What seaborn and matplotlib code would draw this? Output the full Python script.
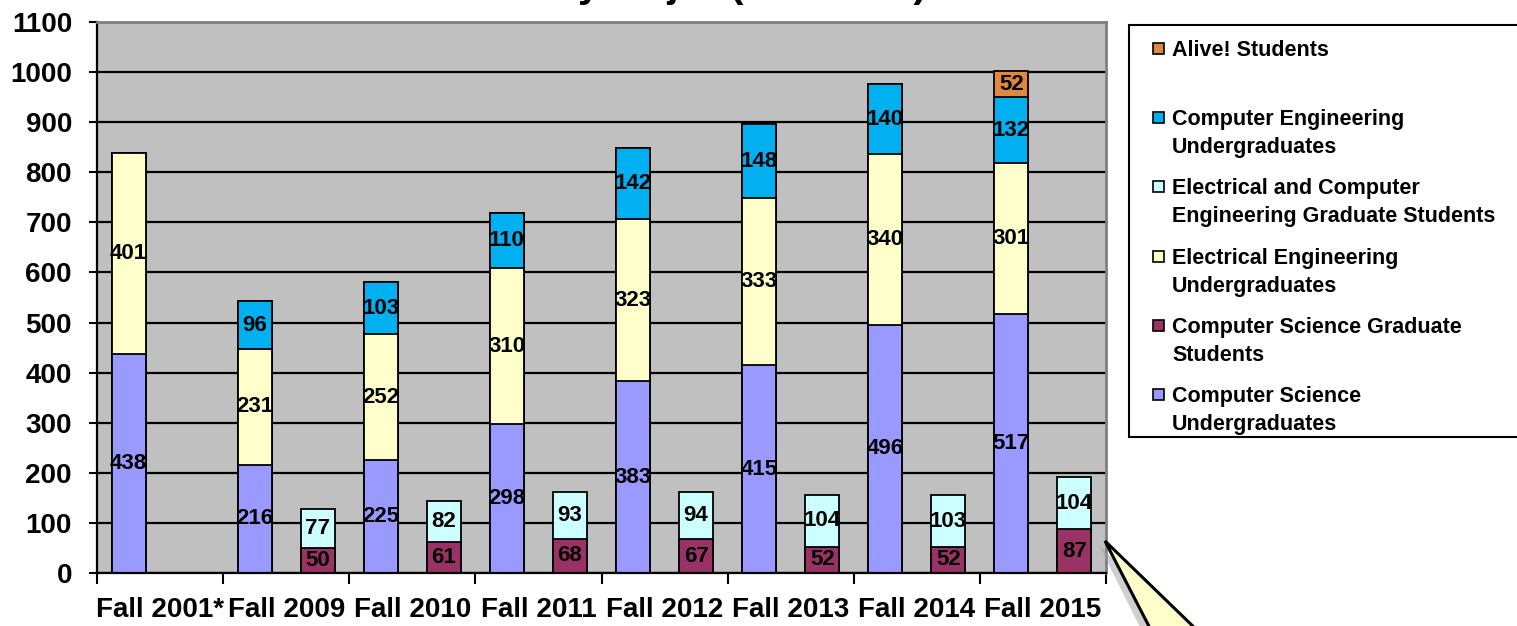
import matplotlib
matplotlib.use("Agg")
import matplotlib.pyplot as plt
import seaborn as sns
import pandas as pd
import numpy as np
from matplotlib.patches import Rectangle, Polygon
from matplotlib.ticker import MultipleLocator, FixedLocator

# Dados
terms = ["Fall 2001*", "Fall 2009", "Fall 2010", "Fall 2011",
         "Fall 2012", "Fall 2013", "Fall 2014", "Fall 2015"]
cs_undergrad = [438, 216, 225, 298, 383, 415, 496, 517]
ee_undergrad = [401, 231, 252, 310, 323, 333, 340, 301]
ce_undergrad = [0, 96, 103, 110, 142, 148, 140, 132]
alive_students = [0, 0, 0, 0, 0, 0, 0, 52]
cs_grad = [0, 50, 61, 68, 67, 52, 52, 87]
ece_grad = [0, 77, 82, 93, 94, 104, 103, 104]

values = {
    "Computer Science\nUndergraduates": cs_undergrad,
    "Electrical Engineering\nUndergraduates": ee_undergrad,
    "Computer Engineering\nUndergraduates": ce_undergrad,
    "Alive! Students": alive_students,
    "Computer Science Graduate\nStudents": cs_grad,
    "Electrical and Computer\nEngineering Graduate Students": ece_grad,
}
left_stack = ["Computer Science\nUndergraduates",
              "Electrical Engineering\nUndergraduates",
              "Computer Engineering\nUndergraduates",
              "Alive! Students"]
right_stack = ["Computer Science Graduate\nStudents",
               "Electrical and Computer\nEngineering Graduate Students"]
legend_order = ["Alive! Students",
                "Computer Engineering\nUndergraduates",
                "Electrical and Computer\nEngineering Graduate Students",
                "Electrical Engineering\nUndergraduates",
                "Computer Science Graduate\nStudents",
                "Computer Science\nUndergraduates"]

colors = {
    "Computer Science\nUndergraduates": "#9999FF",
    "Electrical Engineering\nUndergraduates": "#FFFFCC",
    "Computer Engineering\nUndergraduates": "#00B0F0",
    "Alive! Students": "#E0883F",
    "Computer Science Graduate\nStudents": "#993366",
    "Electrical and Computer\nEngineering Graduate Students": "#CCFFFF",
}

sns.set_style("white")
plt.rcParams["font.family"] = ["Liberation Sans", "DejaVu Sans"]
plt.rcParams["font.weight"] = "bold"
plt.rcParams["text.color"] = "black"
plt.rcParams["xtick.color"] = "black"
plt.rcParams["ytick.color"] = "black"
plt.rcParams["axes.labelcolor"] = "black"

W, H = 1517, 626
fig = plt.figure(figsize=(W / 100, H / 100), dpi=100)
ax = fig.add_axes([97 / W, 1 - 573 / H, (1106 - 97) / W, (573 - 22) / H])

sides = ["left", "right"]
offsets = {"left": -0.25, "right": 0.25}


def draw_stack(ax, names, side):
    # desenha os totais acumulados, do topo para a base, para simular empilhamento
    cum = np.zeros(len(terms))
    layers = []
    for name in names:
        bottom = cum.copy()
        cum = cum + np.array(values[name])
        layers.append((name, bottom, cum.copy()))
    for name, bottom, top in reversed(layers):
        d = pd.DataFrame({"term": terms, "total": top, "side": side})
        d = d[d.total > 0]
        sns.barplot(data=d, x="term", y="total", hue="side", order=terms,
                    hue_order=sides, dodge=True, saturation=1,
                    palette={s: colors[name] for s in sides},
                    width=1.0, gap=0.46, edgecolor="black", linewidth=1.3,
                    errorbar=None, legend=False, ax=ax)
    # rótulos de valores no centro de cada segmento
    for name, bottom, top in layers:
        for i, v in enumerate(values[name]):
            if v > 0:
                ax.text(i + offsets[side], bottom[i] + v / 2, str(v),
                        ha="center", va="center", fontsize=16,
                        fontweight="bold", color="black", zorder=5)


draw_stack(ax, left_stack, "left")
draw_stack(ax, right_stack, "right")

# Configurações do eixo
ax.set_facecolor("#C0C0C0")
ax.set_ylim(0, 1100)
ax.yaxis.set_major_locator(MultipleLocator(100))
ax.grid(axis="y", color="black", linewidth=1.6)
ax.grid(axis="x", visible=False)
ax.set_axisbelow(True)
ax.set_xlim(-0.5, len(terms) - 0.5)
ax.set_xticks(range(len(terms)))
ax.set_xticklabels(terms)
ax.xaxis.set_minor_locator(FixedLocator(np.arange(-0.5, len(terms), 1)))
ax.tick_params(axis="x", which="major", length=0, pad=17, labelsize=20,
               labelcolor="black")
ax.tick_params(axis="x", which="minor", length=8, width=1.5,
               direction="out", color="black", bottom=True)
ax.tick_params(axis="y", length=6, width=1.5, direction="out", left=True,
               color="black", pad=12, labelsize=20, labelcolor="black")
ax.set_xlabel("")
ax.set_ylabel("")
for lab in ax.get_xticklabels() + ax.get_yticklabels():
    lab.set_fontweight("bold")
for s in ["left", "bottom"]:
    ax.spines[s].set_color("black")
    ax.spines[s].set_linewidth(1.6)
for s in ["top", "right"]:
    ax.spines[s].set_color("#808080")
    ax.spines[s].set_linewidth(2)

# Título (cortado no topo da imagem original)
fig.text(629 / W, 1 + 3 / H, "Enrollment by Major (Fall 2015)",
         ha="center", va="baseline", fontsize=29, fontweight="bold",
         color="black")

# Legenda desenhada manualmente
fig.patches.append(Rectangle((1129 / W, 1 - 437 / H), (1530 - 1129) / W,
                             (437 - 25) / H, transform=fig.transFigure,
                             facecolor="white", edgecolor="black",
                             linewidth=1.5, clip_on=False))
for k, name in enumerate(legend_order):
    base = 56 + 69.2 * k
    fig.patches.append(Rectangle((1153 / W, 1 - (base - 2) / H), 11 / W,
                                 11 / H, transform=fig.transFigure,
                                 facecolor=colors[name], edgecolor="black",
                                 linewidth=1.2))
    for j, line in enumerate(name.split("\n")):
        fig.text(1172 / W, 1 - (base + 28 * j) / H, line, ha="left",
                 va="baseline", fontsize=15.5, fontweight="bold",
                 color="black")

# Balão de comentário no canto inferior direito
shadow = Polygon([(1099 / W, 1 - 545 / H), (1155 / W, -0.05), (1215 / W, -0.05)],
                 closed=True, transform=fig.transFigure, facecolor="#A0A0A0",
                 edgecolor="none", alpha=0.5, clip_on=False)
callout = Polygon([(1105 / W, 1 - 541 / H), (1165 / W, -0.05), (1225 / W, -0.05)],
                  closed=True, transform=fig.transFigure, facecolor="#FFFFCC",
                  edgecolor="black", linewidth=2.2, clip_on=False)
fig.patches.append(shadow)
fig.patches.append(callout)

fig.savefig("out.png", dpi=100)
